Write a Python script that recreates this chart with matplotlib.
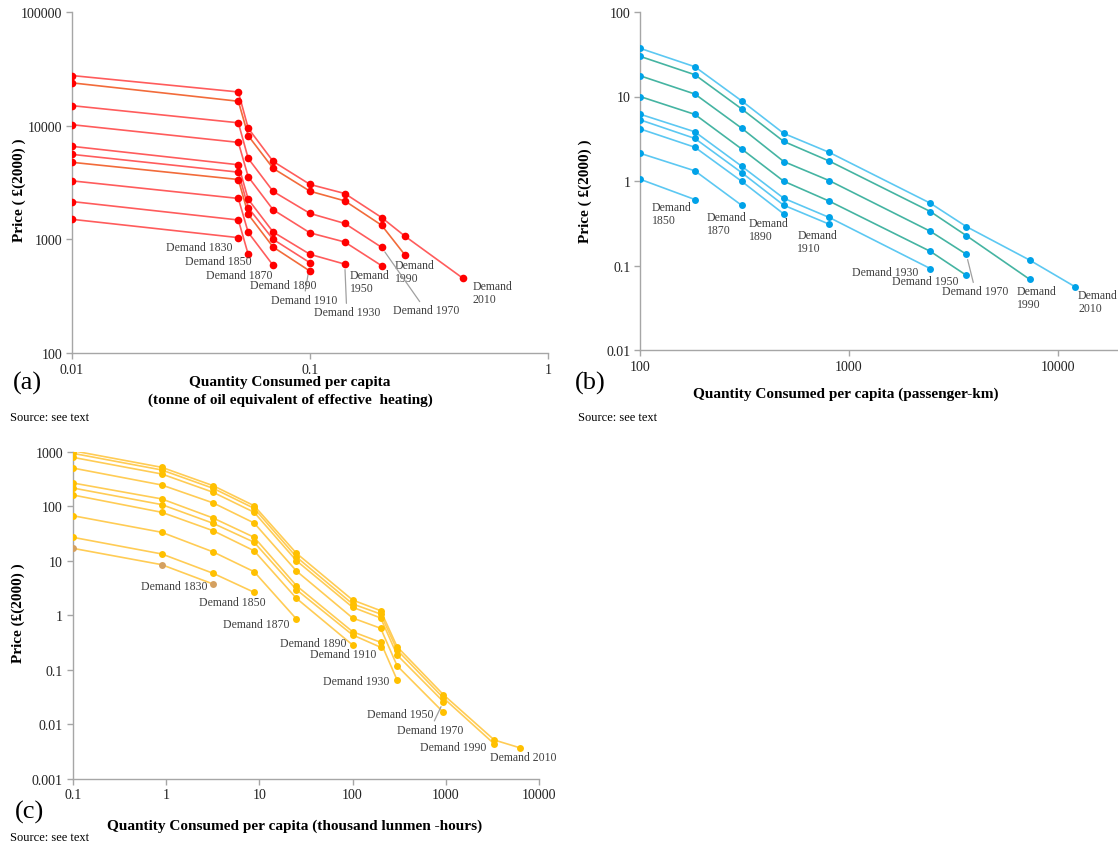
import matplotlib
matplotlib.use('Agg')
import matplotlib.pyplot as plt
import matplotlib.ticker as mticker

plt.rcParams['font.family'] = ['Liberation Serif', 'DejaVu Serif']

# ---- (a) heating: quantity (toe per capita) and price lines, top line first ----
heat_years = [2010, 1990, 1970, 1950, 1930, 1910, 1890, 1870, 1850, 1830]
heat_quantity = [0.01, 0.05, 0.055, 0.07, 0.1, 0.14, 0.2, 0.25, 0.44]
heat_price = [
    [27600, 19800, 9490, 4850, 3040, 2530, 1555, 1070, 453],
    [23800, 16400, 8160, 4210, 2650, 2180, 1330, 733],
    [15000, 10600, 5150, 2640, 1690, 1380, 850],
    [10200, 7130, 3550, 1820, 1140, 947, 586],
    [6580, 4530, 2250, 1160, 738, 605],
    [5590, 3900, 1900, 1000, 622],
    [4760, 3360, 1660, 855, 525],
    [3270, 2290, 1150, 590],
    [2150, 1480, 738],
    [1500, 1035],
]

# ---- (b) transport: passenger-km per capita ----
transport_years = [2010, 1990, 1970, 1950, 1930, 1910, 1890, 1870, 1850]
transport_quantity = [100, 183, 306, 487, 805, 2450, 3640, 7310, 12070]
transport_price = [
    [37.2, 22.5, 8.9, 3.66, 2.18, 0.546, 0.289, 0.116, 0.056],
    [29.9, 18.1, 7.15, 2.94, 1.72, 0.435, 0.226, 0.0687],
    [17.6, 10.7, 4.23, 1.70, 1.01, 0.254, 0.136],
    [10.0, 6.14, 2.40, 0.995, 0.577, 0.147, 0.0766],
    [6.18, 3.82, 1.50, 0.625, 0.370, 0.0919],
    [5.30, 3.19, 1.26, 0.517, 0.308],
    [4.14, 2.51, 0.995, 0.408],
    [2.13, 1.32, 0.517],
    [1.05, 0.604],
]

# ---- (c) lighting: thousand lumen-hours per capita ----
light_years = [2010, 1990, 1970, 1950, 1930, 1910, 1890, 1870, 1850, 1830]
light_quantity = [0.1, 0.9, 3.2, 8.8, 25, 100, 200, 300, 940, 3300, 6300]
light_price = [
    [1042, 517, 238, 102, 13.7, 1.90, 1.21, 0.264, 0.0348, 0.00513, 0.00366],
    [935, 462, 213, 91.5, 11.7, 1.61, 1.05, 0.230, 0.0303, 0.00434],
    [789, 390, 180, 77.3, 10.0, 1.40, 0.889, 0.186, 0.0259],
    [502, 245, 115, 49.2, 6.47, 0.889, 0.575, 0.118, 0.0165],
    [267, 136, 60.7, 26.9, 3.48, 0.498, 0.318, 0.0647],
    [216, 107, 48.5, 21.8, 2.94, 0.434, 0.258],
    [161, 77.3, 35.5, 15.2, 2.04, 0.284],
    [67.0, 33.2, 14.5, 6.28, 0.851],
    [26.9, 13.3, 5.87, 2.63],
    [16.9, 8.45, 3.73],
]

# label placement: year -> (text, dx px, dy px, ha, leader line)
heat_labels = {
    1830: ('Demand 1830', -6, -9, 'right', False),
    1850: ('Demand 1850', 3, -7, 'right', False),
    1870: ('Demand 1870', -1, -10, 'right', False),
    1890: ('Demand 1890', 7, -14, 'right', False),
    1910: ('Demand 1910', 27, -37, 'right', True),
    1930: ('Demand 1930', 2, -48, 'center', True),
    1950: ('Demand\n1950', -32, -16, 'left', False),
    1970: ('Demand 1970', 11, -63, 'left', True),
    1990: ('Demand\n1990', -10, -17, 'left', False),
    2010: ('Demand\n2010', 9, -14, 'left', False),
}
transport_labels = {
    1850: ('Demand\n1850', -43, -14, 'left', False),
    1870: ('Demand\n1870', -35, -18, 'left', False),
    1890: ('Demand\n1890', -35, -16, 'left', False),
    1910: ('Demand\n1910', -32, -17, 'left', False),
    1930: ('Demand 1930', -12, -3, 'right', False),
    1950: ('Demand 1950', -8, -6, 'right', False),
    1970: ('Demand 1970', -24, -37, 'left', True),
    1990: ('Demand\n1990', -13, -18, 'left', False),
    2010: ('Demand\n2010', 3, -15, 'left', False),
}
light_labels = {
    1830: ('Demand 1830', -6, -2, 'right', False),
    1850: ('Demand 1850', 12, -10, 'right', False),
    1870: ('Demand 1870', -7, -5, 'right', False),
    1890: ('Demand 1890', -6, 2, 'right', False),
    1910: ('Demand 1910', -4, -7, 'right', False),
    1930: ('Demand 1930', -8, -1, 'right', False),
    1950: ('Demand 1950', -10, -2, 'right', False),
    1970: ('Demand 1970', 20, -28, 'right', True),
    1990: ('Demand 1990', -8, -3, 'right', False),
    2010: ('Demand 2010', 3, -9, 'center', False),
}

W, H = 1118, 845
fig = plt.figure(figsize=(W / 100, H / 100), dpi=100)


def px_axes(left, top, right, bottom):
    # pixel box -> figure fraction axes
    return fig.add_axes([left / W, 1 - bottom / H, (right - left) / W, (bottom - top) / H])


def ftext(x, y, s, **kw):
    fig.text(x / W, 1 - y / H, s, **kw)


def style_axes(ax, xlim, ylim, xticks, yticks):
    ax.set_xscale('log')
    ax.set_yscale('log')
    ax.set_xlim(*xlim)
    ax.set_ylim(*ylim)
    for s in ['top', 'right']:
        ax.spines[s].set_visible(False)
    for s in ['left', 'bottom']:
        ax.spines[s].set_color('#A6A6A6')
        ax.spines[s].set_linewidth(1.0)
    ax.xaxis.set_major_locator(mticker.FixedLocator(xticks))
    ax.yaxis.set_major_locator(mticker.FixedLocator(yticks))
    ax.xaxis.set_minor_locator(mticker.NullLocator())
    ax.yaxis.set_minor_locator(mticker.NullLocator())
    fmt = mticker.FuncFormatter(lambda v, p: '%g' % v)
    ax.xaxis.set_major_formatter(fmt)
    ax.yaxis.set_major_formatter(fmt)
    ax.tick_params(length=4, width=1, color='#A6A6A6', labelsize=10,
                   labelcolor='#222222', pad=3)
    ax.patch.set_alpha(0)


def draw_lines(ax, quantity, prices, years, labels, line_colors, marker_colors, ms):
    for i, (yr, p) in enumerate(zip(years, prices)):
        q = quantity[:len(p)]
        ax.plot(q, p, '-', color=line_colors[i], lw=1.2, zorder=2)
        ax.plot(q, p, 'o', color=marker_colors[i], ms=ms, mec='none', zorder=3)
        text, dx, dy, ha, leader = labels[yr]
        arrow = None
        if leader:
            arrow = dict(arrowstyle='-', color='#A0A0A0', lw=0.9, shrinkA=0, shrinkB=4)
        ax.annotate(text, xy=(q[-1], p[-1]), xytext=(dx, dy), textcoords='offset pixels',
                    ha=ha, va='center', fontsize=8.5, color='#404040',
                    linespacing=1.1, arrowprops=arrow, annotation_clip=False)


# ---- (a) ----
ax_a = px_axes(72, 13, 548, 354)
style_axes(ax_a, (0.01, 1), (100, 100000), [0.01, 0.1, 1], [100, 1000, 10000, 100000])
red_line = ['#FF5C5C', '#F26B3A', '#FF5C5C', '#FF5C5C', '#FF5C5C',
            '#FF5C5C', '#F26B3A', '#FF5C5C', '#FF5C5C', '#FF5C5C']
draw_lines(ax_a, heat_quantity, heat_price, heat_years, heat_labels,
           red_line, ['#FF0000'] * 10, 5.5)

# ---- (b) ----
ax_b = px_axes(640, 13, 1267, 351)
style_axes(ax_b, (100, 100000), (0.01, 100), [100, 1000, 10000], [0.01, 0.1, 1, 10, 100])
blue_line = ['#5CC8F2', '#45B4A2', '#45B4A2', '#45B4A2', '#5CC8F2',
             '#5CC8F2', '#5CC8F2', '#5CC8F2', '#5CC8F2']
draw_lines(ax_b, transport_quantity, transport_price, transport_years, transport_labels,
           blue_line, ['#00A2E8'] * 9, 5)

# ---- (c) ----
ax_c = px_axes(72.7, 452.7, 539.2, 779.7)
style_axes(ax_c, (0.1, 10000), (0.001, 1000), [0.1, 1, 10, 100, 1000, 10000],
           [0.001, 0.01, 0.1, 1, 10, 100, 1000])
amber_markers = ['#FFC000'] * 9 + ['#D4A060']
draw_lines(ax_c, light_quantity, light_price, light_years, light_labels,
           ['#FFCC55'] * 10, amber_markers, 5)

# ---- axis titles, panel letters, sources ----
ylab = dict(rotation=90, ha='center', va='center', fontsize=11, fontweight='bold')
ftext(19, 190, 'Price ( £(2000) )', **ylab)
ftext(585, 191, 'Price ( £(2000) )', **ylab)
ftext(18, 613, 'Price (£(2000) )', **ylab)

xlab = dict(ha='center', va='center', fontsize=11, fontweight='bold')
ftext(290, 383, 'Quantity Consumed per capita', **xlab)
ftext(290, 400, '(tonne of oil equivalent of effective  heating)', **xlab)
ftext(846, 394, 'Quantity Consumed per capita (passenger-km)', **xlab)
ftext(295, 826, 'Quantity Consumed per capita (thousand lunmen -hours)', **xlab)

ftext(27, 383, '(a)', ha='center', va='center', fontsize=19)
ftext(590, 383, '(b)', ha='center', va='center', fontsize=19)
ftext(29, 812, '(c)', ha='center', va='center', fontsize=19)

ftext(10, 418, 'Source: see text', ha='left', va='center', fontsize=9)
ftext(578, 418, 'Source: see text', ha='left', va='center', fontsize=9)
ftext(10, 838, 'Source: see text', ha='left', va='center', fontsize=9)

fig.savefig('out.png', dpi=100)
